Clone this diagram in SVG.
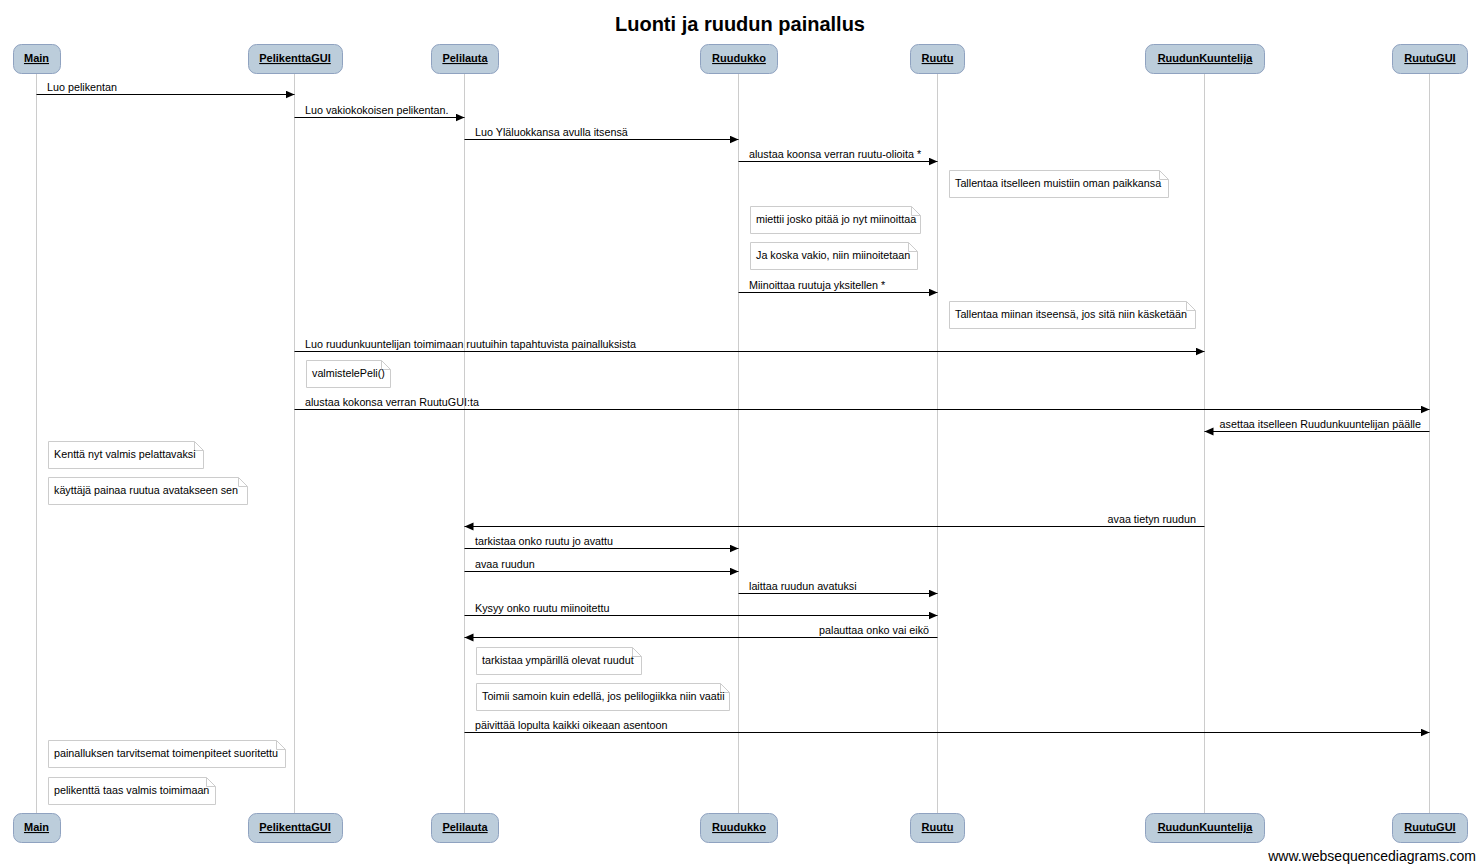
<svg xmlns="http://www.w3.org/2000/svg" width="1478" height="864" viewBox="0 0 1478 864">
<style>
text{font-family:"Liberation Sans",Arial,sans-serif;fill:#000}
.title{font-size:20px;font-weight:bold}
.pl{font-size:11px;font-weight:bold;text-decoration:underline}
.box{fill:#bccddb;stroke:#8fa2c0;stroke-width:1}
.life{stroke:#cccccc;stroke-width:1}
.msg{stroke:#000;stroke-width:1;fill:none;marker-end:url(#ah)}
.m{font-size:10.75px}
.note{fill:#fff;stroke:#cccccc;stroke-width:1}
.wm{font-size:14px;fill:#000}
</style>
<defs>
<marker id="ah" markerUnits="userSpaceOnUse" markerWidth="10" markerHeight="10" refX="9" refY="4" orient="auto">
<path d="M0,0 L9,4 L0,8 z" fill="#000"/>
</marker>
</defs>
<rect width="1478" height="864" fill="#fff"/>
<text class="title" x="740" y="31" text-anchor="middle">Luonti ja ruudun painallus</text>

<g id="lifelines">
<line class="life" x1="36.5" y1="73" x2="36.5" y2="813"/>
<line class="life" x1="294.5" y1="73" x2="294.5" y2="813"/>
<line class="life" x1="464.5" y1="73" x2="464.5" y2="813"/>
<line class="life" x1="738.5" y1="73" x2="738.5" y2="813"/>
<line class="life" x1="937.5" y1="73" x2="937.5" y2="813"/>
<line class="life" x1="1204.5" y1="73" x2="1204.5" y2="813"/>
<line class="life" x1="1429.5" y1="73" x2="1429.5" y2="813"/>
</g>

<g id="p-main"><rect class="box" x="13.5" y="44.5" width="47" height="29" rx="8"/><text class="pl" x="36.5" y="62" text-anchor="middle">Main</text>
<rect class="box" x="13.5" y="813.5" width="47" height="29" rx="8"/><text class="pl" x="36.5" y="831" text-anchor="middle">Main</text></g>
<g id="p-pelikenttagui"><rect class="box" x="248.5" y="44.5" width="94" height="29" rx="8"/><text class="pl" x="295" y="62" text-anchor="middle">PelikenttaGUI</text>
<rect class="box" x="248.5" y="813.5" width="94" height="29" rx="8"/><text class="pl" x="295" y="831" text-anchor="middle">PelikenttaGUI</text></g>
<g id="p-pelilauta"><rect class="box" x="431.5" y="44.5" width="67" height="29" rx="8"/><text class="pl" x="465" y="62" text-anchor="middle">Pelilauta</text>
<rect class="box" x="431.5" y="813.5" width="67" height="29" rx="8"/><text class="pl" x="465" y="831" text-anchor="middle">Pelilauta</text></g>
<g id="p-ruudukko"><rect class="box" x="700.5" y="44.5" width="77" height="29" rx="8"/><text class="pl" x="739" y="62" text-anchor="middle">Ruudukko</text>
<rect class="box" x="700.5" y="813.5" width="77" height="29" rx="8"/><text class="pl" x="739" y="831" text-anchor="middle">Ruudukko</text></g>
<g id="p-ruutu"><rect class="box" x="910.5" y="44.5" width="54" height="29" rx="8"/><text class="pl" x="937.5" y="62" text-anchor="middle">Ruutu</text>
<rect class="box" x="910.5" y="813.5" width="54" height="29" rx="8"/><text class="pl" x="937.5" y="831" text-anchor="middle">Ruutu</text></g>
<g id="p-ruudunkuuntelija"><rect class="box" x="1145.5" y="44.5" width="119" height="29" rx="8"/><text class="pl" x="1205" y="62" text-anchor="middle">RuudunKuuntelija</text>
<rect class="box" x="1145.5" y="813.5" width="119" height="29" rx="8"/><text class="pl" x="1205" y="831" text-anchor="middle">RuudunKuuntelija</text></g>
<g id="p-ruutugui"><rect class="box" x="1392.5" y="44.5" width="75" height="29" rx="8"/><text class="pl" x="1430" y="62" text-anchor="middle">RuutuGUI</text>
<rect class="box" x="1392.5" y="813.5" width="75" height="29" rx="8"/><text class="pl" x="1430" y="831" text-anchor="middle">RuutuGUI</text></g>

<g id="connectors">
<line class="msg" x1="36.5" y1="94.5" x2="294.5" y2="94.5"/><text class="m" x="47" y="91">Luo pelikentan</text>
<line class="msg" x1="294.5" y1="117.5" x2="464.5" y2="117.5"/><text class="m" x="305" y="114">Luo vakiokokoisen pelikentan.</text>
<line class="msg" x1="464.5" y1="139.5" x2="738.5" y2="139.5"/><text class="m" x="475" y="136">Luo Yläluokkansa avulla itsensä</text>
<line class="msg" x1="738.5" y1="161.5" x2="937.5" y2="161.5"/><text class="m" x="749" y="158">alustaa koonsa verran ruutu-olioita *</text>
<line class="msg" x1="738.5" y1="292.5" x2="937.5" y2="292.5"/><text class="m" x="749" y="289">Miinoittaa ruutuja yksitellen *</text>
<line class="msg" x1="294.5" y1="351.5" x2="1204.5" y2="351.5"/><text class="m" x="305" y="348">Luo ruudunkuuntelijan toimimaan ruutuihin tapahtuvista painalluksista</text>
<line class="msg" x1="294.5" y1="409.5" x2="1429.5" y2="409.5"/><text class="m" x="305" y="406">alustaa kokonsa verran RuutuGUI:ta</text>
<line class="msg" x1="1429.5" y1="431.5" x2="1204.5" y2="431.5"/><text class="m" x="1421" y="428" text-anchor="end">asettaa itselleen Ruudunkuuntelijan päälle</text>
<line class="msg" x1="1204.5" y1="526.5" x2="464.5" y2="526.5"/><text class="m" x="1196" y="523" text-anchor="end">avaa tietyn ruudun</text>
<line class="msg" x1="464.5" y1="548.5" x2="738.5" y2="548.5"/><text class="m" x="475" y="545">tarkistaa onko ruutu jo avattu</text>
<line class="msg" x1="464.5" y1="571.5" x2="738.5" y2="571.5"/><text class="m" x="475" y="568">avaa ruudun</text>
<line class="msg" x1="738.5" y1="593.5" x2="937.5" y2="593.5"/><text class="m" x="749" y="590">laittaa ruudun avatuksi</text>
<line class="msg" x1="464.5" y1="615.5" x2="937.5" y2="615.5"/><text class="m" x="475" y="612">Kysyy onko ruutu miinoitettu</text>
<line class="msg" x1="937.5" y1="637.5" x2="464.5" y2="637.5"/><text class="m" x="929" y="634" text-anchor="end">palauttaa onko vai eikö</text>
<line class="msg" x1="464.5" y1="732.5" x2="1429.5" y2="732.5"/><text class="m" x="475" y="729">päivittää lopulta kaikki oikeaan asentoon</text>
</g>

<g id="note1"><path class="note" d="M949.5,170.5 H1159.5 L1168.5,179.5 V197.5 H949.5 Z M1159.5,170.5 V179.5 H1168.5"/><text class="m" x="955" y="187">Tallentaa itselleen muistiin oman paikkansa</text></g>
<g id="note2"><path class="note" d="M750.5,206.5 H911.5 L920.5,215.5 V233.5 H750.5 Z M911.5,206.5 V215.5 H920.5"/><text class="m" x="756" y="223">miettii josko pitää jo nyt miinoittaa</text></g>
<g id="note3"><path class="note" d="M750.5,242.5 H908.5 L917.5,251.5 V269.5 H750.5 Z M908.5,242.5 V251.5 H917.5"/><text class="m" x="756" y="259">Ja koska vakio, niin miinoitetaan</text></g>
<g id="note4"><path class="note" d="M949.5,301.5 H1186.5 L1195.5,310.5 V328.5 H949.5 Z M1186.5,301.5 V310.5 H1195.5"/><text class="m" x="955" y="318">Tallentaa miinan itseensä, jos sitä niin käsketään</text></g>
<g id="note5"><path class="note" d="M306.5,360.5 H381.5 L390.5,369.5 V387.5 H306.5 Z M381.5,360.5 V369.5 H390.5"/><text class="m" x="312" y="377">valmistelePeli()</text></g>
<g id="note6"><path class="note" d="M48.5,441.5 H194.5 L203.5,450.5 V468.5 H48.5 Z M194.5,441.5 V450.5 H203.5"/><text class="m" x="54" y="458">Kenttä nyt valmis pelattavaksi</text></g>
<g id="note7"><path class="note" d="M48.5,477.5 H238.5 L247.5,486.5 V504.5 H48.5 Z M238.5,477.5 V486.5 H247.5"/><text class="m" x="54" y="494">käyttäjä painaa ruutua avatakseen sen</text></g>
<g id="note8"><path class="note" d="M476.5,647.5 H632.5 L641.5,656.5 V674.5 H476.5 Z M632.5,647.5 V656.5 H641.5"/><text class="m" x="482" y="664">tarkistaa ympärillä olevat ruudut</text></g>
<g id="note9"><path class="note" d="M476.5,683.5 H720.5 L729.5,692.5 V710.5 H476.5 Z M720.5,683.5 V692.5 H729.5"/><text class="m" x="482" y="700">Toimii samoin kuin edellä, jos pelilogiikka niin vaatii</text></g>
<g id="note10"><path class="note" d="M48.5,740.5 H276.5 L285.5,749.5 V767.5 H48.5 Z M276.5,740.5 V749.5 H285.5"/><text class="m" x="54" y="757">painalluksen tarvitsemat toimenpiteet suoritettu</text></g>
<g id="note11"><path class="note" d="M48.5,777.5 H206.5 L215.5,786.5 V804.5 H48.5 Z M206.5,777.5 V786.5 H215.5"/><text class="m" x="54" y="794">pelikenttä taas valmis toimimaan</text></g>

<text class="wm" x="1476" y="861" text-anchor="end">www.websequencediagrams.com</text>
</svg>
